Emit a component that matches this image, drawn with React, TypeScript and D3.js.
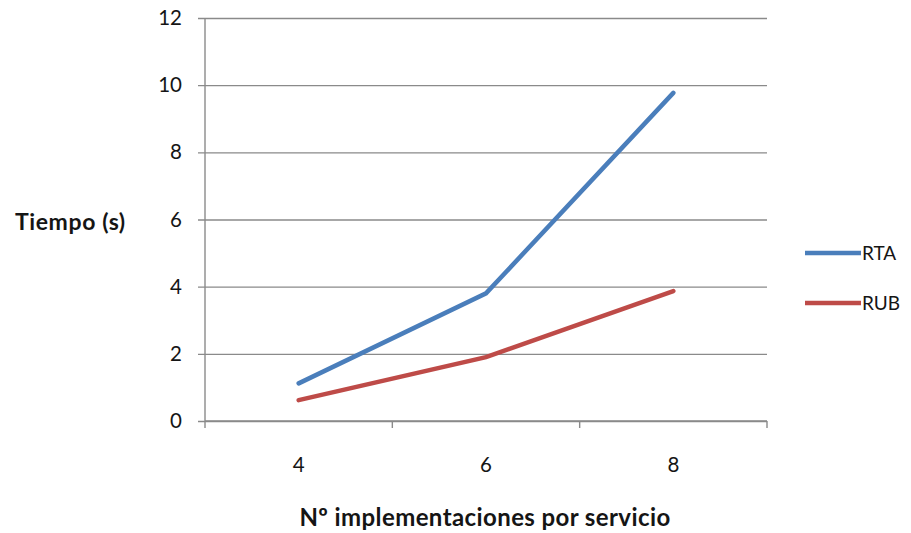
import React from "react";
import * as d3 from "d3";

const categories = ["4", "6", "8"];
const rtaValues = [1.12, 3.8, 9.77];
const rubValues = [0.62, 1.9, 3.87];
const yTicks = [0, 2, 4, 6, 8, 10, 12];

const series = [
  { name: "RTA", color: "#4a7ebb", values: rtaValues },
  { name: "RUB", color: "#be4b48", values: rubValues },
];

const W = 911;
const H = 533;
const margin = { left: 205, right: 144, top: 18, bottom: 112 };
const font = "Lato, 'Open Sans', sans-serif";
const textColor = "#151515";

const App = () => {
  const svgRef = React.useRef<SVGSVGElement>(null);

  React.useEffect(() => {
    const width = W - margin.left - margin.right;
    const height = H - margin.top - margin.bottom;
    const xScale = d3.scaleBand().domain(categories).range([0, width]);
    const yScale = d3.scaleLinear().domain([0, 12]).range([height, 0]);

    const svgEl = d3.select(svgRef.current);
    svgEl.selectAll("*").remove();
    const svg = svgEl.append("g").attr("transform", `translate(${margin.left},${margin.top})`);

    // horizontal grid + y labels
    const yAxis = d3.axisLeft(yScale).tickValues(yTicks).tickSize(-width).tickPadding(23);
    const yAxisGroup = svg.append("g").call(yAxis);
    yAxisGroup.select(".domain").remove();
    yAxisGroup.selectAll("line").attr("stroke", "#8a8a8a").attr("stroke-width", 1.4).attr("x1", -7);
    yAxisGroup.selectAll("text")
      .attr("fill", textColor)
      .attr("font-family", font)
      .attr("font-size", "20.5px");

    // y axis line
    svg.append("line")
      .attr("x1", 0).attr("x2", 0).attr("y1", 0).attr("y2", height)
      .attr("stroke", "#8a8a8a").attr("stroke-width", 1.4);

    // x axis with boundary ticks
    const bounds = d3.range(categories.length + 1).map((i) => i * xScale.step());
    const xg = svg.append("g").attr("transform", `translate(0,${height})`);
    xg.append("line").attr("x1", 0).attr("x2", width).attr("stroke", "#8a8a8a").attr("stroke-width", 1.4);
    xg.selectAll(".b").data(bounds).enter().append("line")
      .attr("x1", (d) => d).attr("x2", (d) => d).attr("y1", 0).attr("y2", 7)
      .attr("stroke", "#8a8a8a").attr("stroke-width", 1.4);
    xg.selectAll(".lbl").data(categories).enter().append("text")
      .attr("x", (d) => (xScale(d) as number) + xScale.bandwidth() / 2)
      .attr("y", 51)
      .attr("text-anchor", "middle")
      .attr("fill", textColor)
      .attr("font-family", font)
      .attr("font-size", "20.5px")
      .text((d) => d);

    // lines
    const line = d3.line<number>()
      .x((d, i) => (xScale(categories[i]) as number) + xScale.bandwidth() / 2)
      .y((d) => yScale(d));
    svg.selectAll(".series").data(series).enter().append("path")
      .attr("fill", "none")
      .attr("stroke", (d) => d.color)
      .attr("stroke-width", 4.5)
      .attr("stroke-linecap", "round")
      .attr("d", (d) => line(d.values));

    // axis titles
    svgEl.append("text")
      .attr("x", 15).attr("y", 230)
      .attr("font-family", font).attr("font-weight", "bold").attr("font-size", "23px")
      .attr("letter-spacing", "0.6px")
      .attr("fill", textColor)
      .text("Tiempo (s)");
    svgEl.append("text")
      .attr("x", margin.left + width / 2 - 1).attr("y", 526)
      .attr("text-anchor", "middle")
      .attr("font-family", font).attr("font-weight", "bold").attr("font-size", "24px")
      .attr("letter-spacing", "0.4px")
      .attr("fill", textColor)
      .text("Nº implementaciones por servicio");

    // legend
    const legend = svgEl.append("g").attr("transform", "translate(805,253)");
    series.forEach((s, i) => {
      const g = legend.append("g").attr("transform", `translate(0,${i * 50})`);
      g.append("line").attr("x1", 0).attr("x2", 56).attr("stroke", s.color).attr("stroke-width", 4.5);
      g.append("text").attr("x", 57).attr("y", 7)
        .attr("font-family", font).attr("font-size", "19px").attr("fill", textColor)
        .text(s.name);
    });
  }, []);

  return <svg ref={svgRef} width={W} height={H} style={{ display: "block", position: "absolute", left: 0, top: 0, background: "#fff" }} />;
};

export default App;
